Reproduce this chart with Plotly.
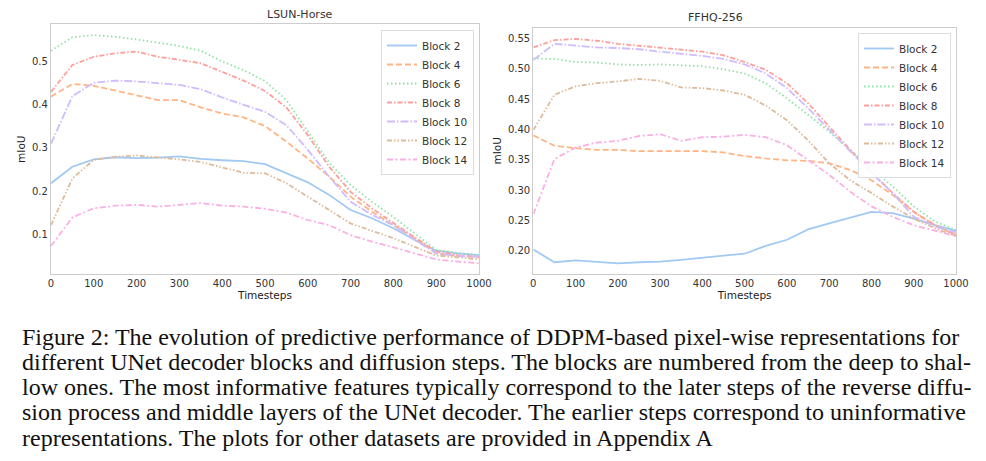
import plotly.graph_objects as go

timesteps = [0, 50, 100, 150, 200, 250, 300, 350, 400, 450, 500,
             550, 600, 650, 700, 750, 800, 850, 900, 950, 1000]
block_names = ["Block 2", "Block 4", "Block 6", "Block 8", "Block 10", "Block 12", "Block 14"]

# LSUN-Horse
lsun_b2 = [0.218, 0.256, 0.273, 0.278, 0.276, 0.277, 0.280, 0.274, 0.271, 0.269, 0.262,
           0.241, 0.220, 0.191, 0.156, 0.137, 0.114, 0.087, 0.062, 0.056, 0.052]
lsun_b4 = [0.418, 0.447, 0.443, 0.432, 0.422, 0.410, 0.410, 0.393, 0.379, 0.370, 0.350,
           0.314, 0.275, 0.233, 0.187, 0.152, 0.121, 0.091, 0.056, 0.050, 0.047]
lsun_b6 = [0.524, 0.555, 0.560, 0.556, 0.550, 0.542, 0.535, 0.524, 0.499, 0.479, 0.454,
           0.410, 0.337, 0.265, 0.214, 0.175, 0.140, 0.102, 0.064, 0.057, 0.052]
lsun_b8 = [0.429, 0.491, 0.510, 0.518, 0.522, 0.510, 0.503, 0.495, 0.475, 0.455, 0.431,
           0.393, 0.329, 0.256, 0.198, 0.160, 0.126, 0.094, 0.060, 0.052, 0.048]
lsun_b10 = [0.309, 0.419, 0.450, 0.455, 0.453, 0.449, 0.445, 0.435, 0.416, 0.399, 0.383,
            0.352, 0.295, 0.233, 0.175, 0.145, 0.121, 0.087, 0.056, 0.050, 0.048]
lsun_b12 = [0.121, 0.229, 0.272, 0.279, 0.282, 0.278, 0.273, 0.267, 0.255, 0.242, 0.241,
            0.218, 0.187, 0.156, 0.125, 0.108, 0.091, 0.071, 0.051, 0.047, 0.042]
lsun_b14 = [0.073, 0.139, 0.160, 0.166, 0.168, 0.164, 0.168, 0.172, 0.166, 0.164, 0.159,
            0.150, 0.133, 0.121, 0.098, 0.083, 0.070, 0.056, 0.042, 0.037, 0.033]

# FFHQ-256
ffhq_b2 = [0.202, 0.181, 0.184, 0.181, 0.179, 0.181, 0.182, 0.185, 0.189, 0.192, 0.195,
           0.208, 0.218, 0.235, 0.245, 0.254, 0.264, 0.262, 0.253, 0.242, 0.233]
ffhq_b4 = [0.390, 0.373, 0.369, 0.366, 0.366, 0.364, 0.364, 0.364, 0.364, 0.362, 0.356,
           0.352, 0.349, 0.348, 0.344, 0.333, 0.316, 0.292, 0.264, 0.242, 0.226]
ffhq_b6 = [0.517, 0.516, 0.511, 0.510, 0.507, 0.506, 0.507, 0.505, 0.504, 0.499, 0.492,
           0.476, 0.451, 0.424, 0.396, 0.366, 0.336, 0.306, 0.273, 0.248, 0.234]
ffhq_b8 = [0.535, 0.547, 0.549, 0.546, 0.541, 0.538, 0.535, 0.532, 0.528, 0.522, 0.511,
           0.498, 0.476, 0.443, 0.404, 0.366, 0.330, 0.295, 0.264, 0.242, 0.226]
ffhq_b10 = [0.514, 0.541, 0.538, 0.535, 0.534, 0.532, 0.528, 0.525, 0.521, 0.516, 0.507,
            0.492, 0.468, 0.435, 0.399, 0.363, 0.328, 0.295, 0.256, 0.240, 0.230]
ffhq_b12 = [0.399, 0.457, 0.471, 0.476, 0.479, 0.483, 0.480, 0.469, 0.468, 0.464, 0.457,
            0.439, 0.415, 0.382, 0.344, 0.316, 0.295, 0.273, 0.253, 0.237, 0.224]
ffhq_b14 = [0.260, 0.351, 0.370, 0.378, 0.381, 0.389, 0.392, 0.381, 0.387, 0.388, 0.391,
            0.387, 0.374, 0.349, 0.325, 0.297, 0.273, 0.256, 0.242, 0.233, 0.224]

lsun_series = [lsun_b2, lsun_b4, lsun_b6, lsun_b8, lsun_b10, lsun_b12, lsun_b14]
ffhq_series = [ffhq_b2, ffhq_b4, ffhq_b6, ffhq_b8, ffhq_b10, ffhq_b12, ffhq_b14]

lsun_ticks = [0.1, 0.2, 0.3, 0.4, 0.5]
ffhq_ticks = [0.20, 0.25, 0.30, 0.35, 0.40, 0.45, 0.50, 0.55]
x_ticks = [0, 100, 200, 300, 400, 500, 600, 700, 800, 900, 1000]

caption_lines = [
    "Figure 2: The evolution of predictive performance of DDPM-based pixel-wise representations for",
    "different UNet decoder blocks and diffusion steps. The blocks are numbered from the deep to shal-",
    "low ones. The most informative features typically correspond to the later steps of the reverse diffu-",
    "sion process and middle layers of the UNet decoder. The earlier steps correspond to uninformative",
    "representations. The plots for other datasets are provided in Appendix A",
]

colors = ["#a1c9f4", "#ffb482", "#8de5a1", "#ff9f9b", "#d0bbff", "#debb9b", "#fab0e4"]
dashes = ["solid", "6px,3px", "1.5px,2.5px", "5px,2px,1.5px,2px", "8px,2px,1.5px,2px",
          "5px,2px,1.5px,2px,1.5px,2px", "6px,2.5px,2px,2.5px"]

W, H = 986, 461
fig = go.Figure()

for i, name in enumerate(block_names):
    fig.add_trace(go.Scatter(x=timesteps, y=lsun_series[i], mode="lines", name=name,
                             line=dict(color=colors[i], dash=dashes[i], width=1.8),
                             xaxis="x", yaxis="y", legend="legend"))
for i, name in enumerate(block_names):
    fig.add_trace(go.Scatter(x=timesteps, y=ffhq_series[i], mode="lines", name=name,
                             line=dict(color=colors[i], dash=dashes[i], width=1.8),
                             xaxis="x2", yaxis="y2", legend="legend2"))

tickfont = dict(family="DejaVu Sans", size=10, color="#333333")
axis_common = dict(showline=True, mirror=True, linecolor="#cccccc", linewidth=1.2,
                   showgrid=False, zeroline=False, ticks="", tickfont=tickfont,
                   automargin=False)
title_font = dict(family="DejaVu Sans", size=10.5, color="#222")

def px_x(p):
    return p / W

def px_y(p):
    return 1 - p / H

fig.update_layout(
    width=W, height=H, margin=dict(l=0, r=0, t=0, b=0, autoexpand=False),
    paper_bgcolor="white", plot_bgcolor="white",
    xaxis=dict(domain=[px_x(51), px_x(479)], range=[0, 1000], tickvals=x_ticks,
               title=dict(text="Timesteps", font=title_font, standoff=0),
               anchor="y", **axis_common),
    yaxis=dict(domain=[px_y(274), px_y(24.3)], range=[0.0083, 0.585], tickvals=lsun_ticks,
               ticktext=[f"{v:.1f}" for v in lsun_ticks],
               title=dict(text="mIoU", font=title_font, standoff=4),
               anchor="x", **axis_common),
    xaxis2=dict(domain=[px_x(533.3), px_x(956)], range=[0, 1000], tickvals=x_ticks,
                title=dict(text="Timesteps", font=title_font, standoff=0),
                anchor="y2", **axis_common),
    yaxis2=dict(domain=[px_y(274), px_y(27.7)], range=[0.1616, 0.5675], tickvals=ffhq_ticks,
                ticktext=[f"{v:.2f}" for v in ffhq_ticks],
                title=dict(text="mIoU", font=title_font, standoff=4),
                anchor="x2", **axis_common),
    legend=dict(x=px_x(474), y=px_y(30), xanchor="right", yanchor="top",
                bordercolor="#dddddd", borderwidth=1, bgcolor="rgba(255,255,255,0.9)",
                font=dict(family="DejaVu Sans", size=10.5, color="#333"),
                itemwidth=30, tracegroupgap=0),
    legend2=dict(x=px_x(951), y=px_y(33), xanchor="right", yanchor="top",
                 bordercolor="#dddddd", borderwidth=1, bgcolor="rgba(255,255,255,0.9)",
                 font=dict(family="DejaVu Sans", size=10.5, color="#333"),
                 itemwidth=30, tracegroupgap=0),
)

annotations = [
    dict(text="LSUN-Horse", x=px_x(265), y=px_y(15), xref="paper", yref="paper",
         yanchor="middle", showarrow=False, font=dict(family="DejaVu Sans", size=11, color="#333")),
    dict(text="FFHQ-256", x=px_x(745), y=px_y(17), xref="paper", yref="paper",
         yanchor="middle", showarrow=False, font=dict(family="DejaVu Sans", size=11, color="#333")),
]
caption_y = [336.5, 361.5, 386.5, 412, 437.5]
for line, yy in zip(caption_lines, caption_y):
    annotations.append(dict(text=line, x=px_x(20), y=px_y(yy), xref="paper", yref="paper",
                            xanchor="left", yanchor="middle", showarrow=False,
                            font=dict(family="Liberation Serif", size=24, color="#111")))
fig.update_layout(annotations=annotations)

fig.write_html("out.html", config={"displayModeBar": False},
               post_script="document.body.style.margin='0px';")
